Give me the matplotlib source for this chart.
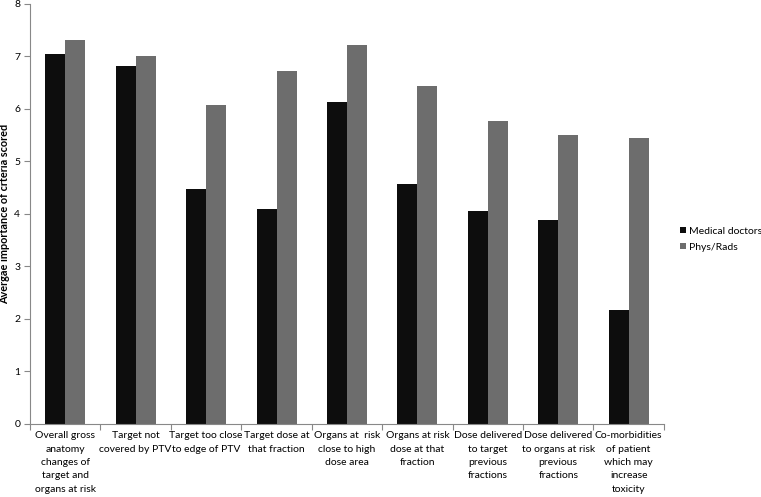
import matplotlib
matplotlib.use("Agg")
import matplotlib.pyplot as plt
import numpy as np

plt.rcParams['font.family'] = ['Lato', 'DejaVu Sans']

categories = [
    "Overall gross\nanatomy\nchanges of\ntarget and\norgans at risk",
    "Target not\ncovered by PTV",
    "Target too close\nto edge of PTV",
    "Target dose at\nthat fraction",
    "Organs at  risk\nclose to high\ndose area",
    "Organs at risk\ndose at that\nfraction",
    "Dose delivered\nto target\nprevious\nfractions",
    "Dose delivered\nto organs at risk\nprevious\nfractions",
    "Co-morbidities\nof patient\nwhich may\nincrease\ntoxicity",
]
medical_doctors = [7.05, 6.81, 4.47, 4.09, 6.14, 4.57, 4.05, 3.89, 2.18]
phys_rads = [7.31, 7.00, 6.08, 6.72, 7.22, 6.43, 5.77, 5.51, 5.45]

fig = plt.figure(figsize=(7.61, 4.97), dpi=100)
ax = fig.add_axes([0.0394, 0.147, 0.833, 0.845])

x = np.arange(len(categories))
w = 0.284
ax.bar(x - w / 2, medical_doctors, w, color="#0d0d0d", label="Medical doctors")
ax.bar(x + w / 2, phys_rads, w, color="#6d6d6d", label="Phys/Rads")

ax.set_xlim(-0.5, len(categories) - 0.5)
ax.set_ylim(0, 8)
ax.set_yticks(range(0, 9))
ax.tick_params(axis="y", labelsize=7.5, length=4, color="#888888", pad=3)

# category labels centred, ticks on boundaries
ax.set_xticks(np.arange(len(categories) + 1) - 0.5)
ax.set_xticklabels([])
ax.tick_params(axis="x", length=4, color="#888888")
for i, lab in enumerate(categories):
    ax.text(i, -0.14, lab, ha="center", va="top", fontsize=7.5,
            linespacing=1.62, transform=ax.transData)

for s in ["top", "right"]:
    ax.spines[s].set_visible(False)
for s in ["left", "bottom"]:
    ax.spines[s].set_color("#888888")

ax.set_ylabel("Avergae importance of crteria scored", fontsize=7.8, fontweight="bold", labelpad=3)

ax.legend(loc="center left", bbox_to_anchor=(1.01, 0.44), frameon=False, fontsize=7.5,
          handlelength=0.6, handleheight=0.6, handletextpad=0.3, labelspacing=0.7)

fig.savefig("out.png", dpi=100)
